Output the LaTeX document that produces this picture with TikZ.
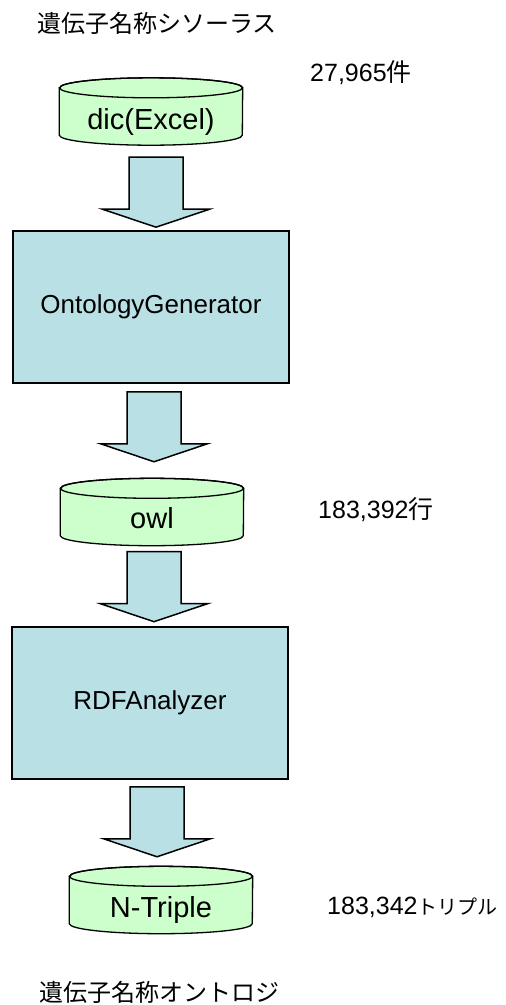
\documentclass[tikz,border=0pt]{standalone}
\usepackage{fontspec}
\setmainfont{Liberation Sans}
\newfontfamily\jp{Noto Sans CJK JP}
\usetikzlibrary{calc}
\definecolor{dbgreen}{RGB}{204, 255, 204}
\definecolor{toolblue}{RGB}{185, 224, 229}
\tikzset{
  db/.style={rectangle, minimum width=183pt, minimum height=67pt, inner sep=0pt},
  dbline/.style={draw, line width=1.3pt, fill=dbgreen},
  dbtext/.style={inner sep=0pt, font=\fontsize{29}{32}\selectfont},
  tool/.style={rectangle, draw, line width=1.5pt, fill=toolblue,
    minimum width=276pt, minimum height=152pt, inner sep=0pt, font=\fontsize{26}{30}\selectfont},
  blk/.style={draw, line width=1.5pt, fill=toolblue},
  cnt/.style={anchor=west, inner sep=0pt, font=\fontsize{25}{28}\selectfont},
  ttl/.style={anchor=west, inner sep=0pt, font=\jp\fontsize{24}{28}\selectfont}
}
% cylinder drawn round a named db node
\newcommand{\dbcyl}[1]{
  \draw[dbline] ($(#1.north west)+(0,10)$) -- ($(#1.south west)+(0,-10)$)
    arc[start angle=180, end angle=360, x radius=91.5pt, y radius=10pt]
    -- ($(#1.north east)+(0,10)$)
    arc[start angle=0, end angle=180, x radius=91.5pt, y radius=10pt] -- cycle;
  \draw[line width=1.3pt] ($(#1.north)+(0,10)$) ellipse[x radius=91.5pt, y radius=10pt];}
\newcommand{\blkarrow}[1]{\draw[blk] ($(#1)+(-27,0)$) -- ++(54,0) -- ++(0,52) -- ++(26.5,0)
  -- ++(-53.5,18) -- ++(-53.5,-18) -- ++(26.5,0) -- cycle;}

\begin{document}
\begin{tikzpicture}[x=1pt, y=-1pt]
   \useasboundingbox (0,0) rectangle (506,1005);
   \node[ttl] (thes) at (37,23) {遺伝子名称シソーラス};
   \node[db] (dic) at (151,111.5) {};
   \dbcyl{dic}
   \node[dbtext] (ldic) at ($(dic.center)+(0,10)$) {dic(Excel)};
   \node[cnt] (ndic) at (310,72.5) {27,965{\jp 件}};
   \node[tool] (gen) at (151,307) {OntologyGenerator};
   \node[db] (owl) at (152,512) {};
   \dbcyl{owl}
   \node[dbtext] (lowl) at ($(owl.center)+(0,6)$) {owl};
   \node[cnt] (nowl) at (318,509.5) {183,392{\jp 行}};
   \node[tool] (ana) at (150,703) {RDFAnalyzer};
   \node[db] (nt) at (161,900) {};
   \dbcyl{nt}
   \node[dbtext] (lnt) at ($(nt.center)+(0,10)$) {N-Triple};
   \node[cnt] (nnt) at (327,907.5) {183,342{\jp\fontsize{20}{24}\selectfont トリプル}};
   \node[ttl] (onto) at (39,992) {遺伝子名称オントロジ};
   % block arrows
   \coordinate (t1) at ($(dic.south)+(5,12)$);
   \coordinate (t2) at ($(gen.south)+(3,8)$);
   \coordinate (t3) at ($(owl.south)+(2,6)$);
   \coordinate (t4) at ($(ana.south)+(7,7)$);
   \blkarrow{t1}
   \blkarrow{t2}
   \blkarrow{t3}
   \blkarrow{t4}
\end{tikzpicture}
\end{document}
